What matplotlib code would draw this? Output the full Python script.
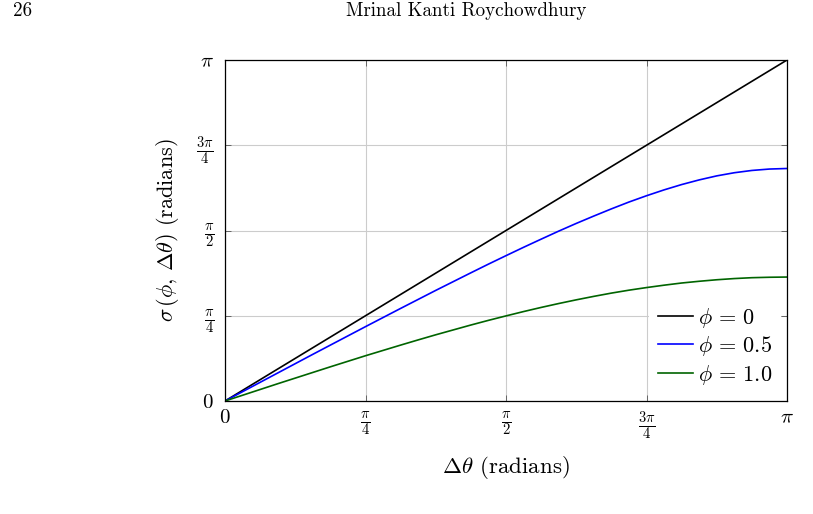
"""
Great-circle separation sigma(phi, dtheta) for three latitudes.
"""

import numpy as np
from matplotlib import pyplot as plt

plt.rcParams['mathtext.fontset'] = 'cm'
plt.rcParams['font.family'] = 'serif'
plt.rcParams['font.serif'] = ['cmr10', 'DejaVu Serif']
plt.rcParams['axes.formatter.use_mathtext'] = True

# values, dtheta in steps of pi/32
dtheta = np.arange(33) * np.pi / 32
sigma_phi0 = dtheta.copy()
sigma_phi05 = [0.0, 0.086, 0.172, 0.258, 0.344, 0.430, 0.515, 0.600, 0.685,
               0.769, 0.853, 0.936, 1.019, 1.100, 1.181, 1.261, 1.339, 1.416,
               1.491, 1.565, 1.636, 1.704, 1.770, 1.833, 1.891, 1.945, 1.994,
               2.037, 2.074, 2.103, 2.124, 2.137, 2.142]
sigma_phi10 = [0.0, 0.053, 0.106, 0.159, 0.211, 0.263, 0.315, 0.366, 0.417,
               0.466, 0.515, 0.563, 0.610, 0.655, 0.700, 0.743, 0.784, 0.824,
               0.862, 0.898, 0.932, 0.964, 0.994, 1.021, 1.045, 1.067, 1.087,
               1.103, 1.117, 1.128, 1.136, 1.140, 1.142]

tick_vals = [0, np.pi / 4, np.pi / 2, 3 * np.pi / 4, np.pi]
tick_labels = [r'$0$', r'$\frac{\pi}{4}$', r'$\frac{\pi}{2}$',
               r'$\frac{3\pi}{4}$', r'$\pi$']

fig = plt.figure(figsize=(8.13, 5.14), dpi=100)
ax = fig.add_axes([225 / 813, 1 - 401 / 514, 562 / 813, 341 / 514])

ax.plot(dtheta, sigma_phi0, color='black', linewidth=1.2, label=r'$\phi\,=\,0$')
ax.plot(dtheta, sigma_phi05, color='blue', linewidth=1.2, label=r'$\phi\,=\,0.5$')
ax.plot(dtheta, sigma_phi10, color='#006400', linewidth=1.2, label=r'$\phi\,=\,1.0$')

ax.set_xlim(0, np.pi)
ax.set_ylim(0, np.pi)
ax.set_xticks(tick_vals)
ax.set_xticklabels(tick_labels, fontsize=15)
ax.set_yticks(tick_vals)
ax.set_yticklabels(tick_labels, fontsize=15)
ax.tick_params(direction='in', top=True, right=True, length=4, width=0.6,
               color='#555555')
ax.tick_params(axis='x', pad=6)
ax.tick_params(axis='y', pad=8)
ax.grid(True, color='#cccccc', linewidth=0.8)
for sp in ax.spines.values():
    sp.set_linewidth(0.9)

ax.set_xlabel(r'$\Delta\theta$ (radians)', fontsize=16.5, labelpad=9)
ax.set_ylabel(r'$\sigma\,(\phi,\, \Delta\theta)$ (radians)', fontsize=16,
              labelpad=11)

leg = ax.legend(loc='lower right', fontsize=16, frameon=True, fancybox=False,
                edgecolor='none', framealpha=1, handlelength=1.55,
                handletextpad=0.25, borderaxespad=0.25, labelspacing=0.2)

fig.text(13 / 813, 1 - 11 / 514, '26', fontsize=13.7, va='center', ha='left')
fig.text(466 / 813, 1 - 11 / 514, 'Mrinal Kanti Roychowdhury', fontsize=13.7,
         va='center', ha='center')

plt.savefig('out.png', dpi=100)
